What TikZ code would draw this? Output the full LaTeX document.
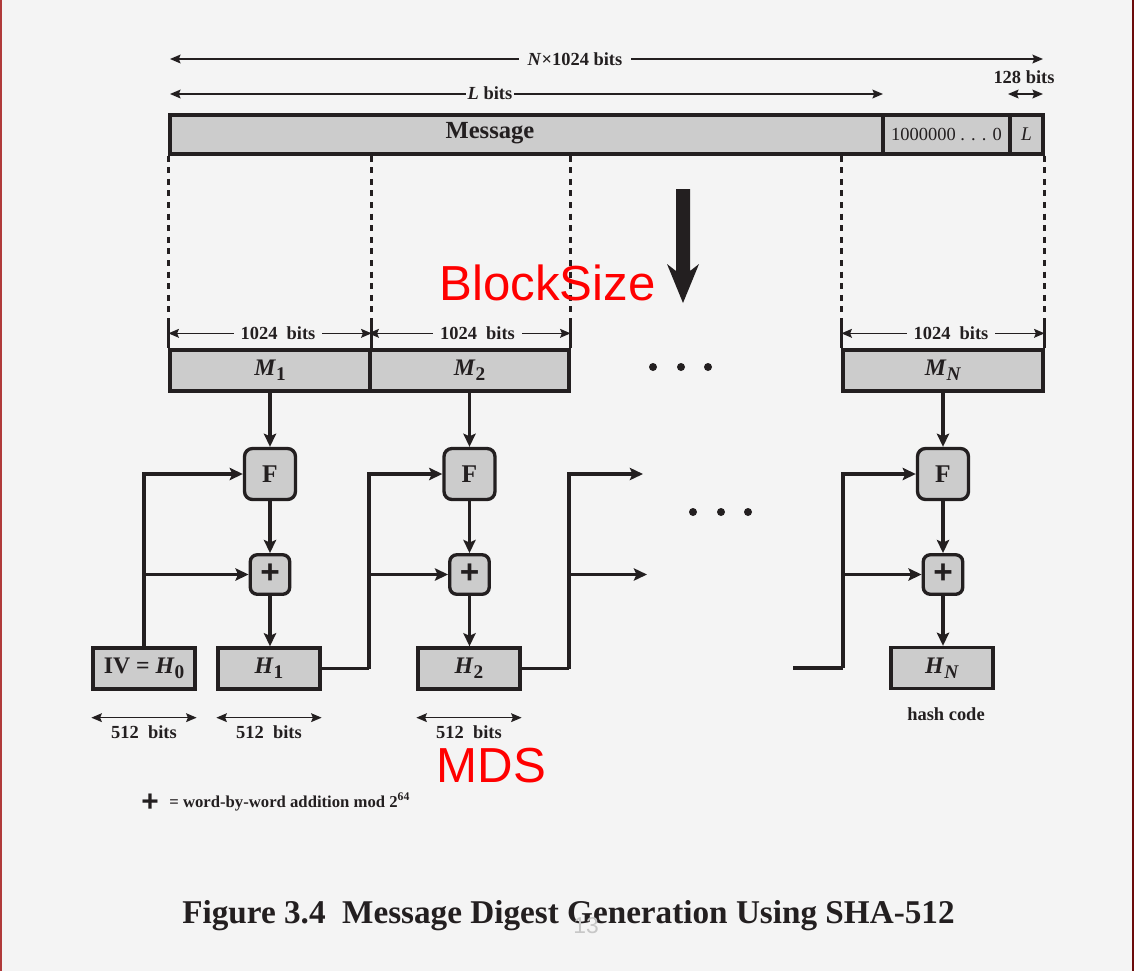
\documentclass[tikz,border=0pt]{standalone}
\usepackage{fontspec}
\setmainfont{Liberation Serif}
\newfontfamily\arialfont{Liberation Sans}
\usetikzlibrary{arrows.meta,calc}
\definecolor{ink}{HTML}{231F20}
\definecolor{boxgray}{HTML}{CCCCCC}
\definecolor{bgc}{HTML}{F4F4F4}
\definecolor{edgeL}{HTML}{B03A3A}
\definecolor{edgeR}{HTML}{6B0A0A}
\newcommand\sbs[1]{\raisebox{-0.45ex}{\fontsize{11}{12}\selectfont #1}}
\begin{document}
\begin{tikzpicture}[x=0.02cm,y=-0.02cm,
  box/.style={draw=ink,fill=boxgray,line width=1.9pt,inner sep=0pt},
  rbox/.style={box,rounded corners=0.16cm},
  boxtxt/.style={font=\fontsize{13.5}{16}\selectfont\bfseries,text=ink,inner sep=0pt},
  flow/.style={draw=ink,line width=1.8pt,-{Stealth[length=7.5pt,width=7pt,inset=1.5pt]}},
  wire/.style={draw=ink,line width=1.8pt},
  dimline/.style={draw=ink,line width=0.9pt,{Stealth[length=6pt,width=5pt,inset=1pt]}-{Stealth[length=6pt,width=5pt,inset=1pt]}},
  dashv/.style={draw=ink,line width=1.7pt,dash pattern=on 3.4pt off 3.2pt},
  tick/.style={draw=ink,line width=1.7pt},
  lbl/.style={font=\fontsize{10.5}{12}\selectfont\bfseries,text=ink,fill=bgc,inner sep=3pt},
  redtxt/.style={font=\arialfont\fontsize{28}{30}\selectfont,text=red,anchor=base,inner sep=0pt},
  plustxt/.style={font=\arialfont\fontsize{19}{20}\selectfont\bfseries,text=ink,inner sep=0pt},
  dot/.style={circle,fill=ink,inner sep=0pt,minimum size=0.16cm}
]
\fill[bgc] (0,0) rectangle (1134,971);
\useasboundingbox (0,0) rectangle (1134,971);
\draw[edgeL,line width=1.2pt] (0.6,0) -- (0.6,971);
\draw[edgeR,line width=1.2pt] (1133.4,0) -- (1133.4,971);

% ---- top dimension lines
\coordinate (a1) at (170,59);
\coordinate (a2) at (1043,59);
\draw[dimline] (a1) -- (a2);
\node[lbl,inner sep=5pt] (ntxt) at (575,59) {\textit{N}×1024 bits};
\coordinate (b1) at (170,94);
\coordinate (b2) at (883,94);
\draw[dimline] (b1) -- (b2);
\node[lbl,inner sep=1pt] (ltxt) at (490,93) {\textit{L} bits};
\coordinate (c1) at (1008,94);
\coordinate (c2) at (1043,94);
\draw[dimline] (c1) -- (c2);
\node[lbl,fill=none,inner sep=0pt] (t128) at (1024,77) {128 bits};

% ---- message bar
\node[box,minimum width=14.26cm,minimum height=0.78cm] (msg) at (526.5,134.5) {};
\node[box,minimum width=2.54cm,minimum height=0.78cm] (pad) at (946.5,134.5) {};
\node[box,minimum width=0.66cm,minimum height=0.78cm] (lenf) at (1026.5,134.5) {};
\node[boxtxt,font=\fontsize{14}{16}\selectfont\bfseries] (msgtxt) at (490,133) {Message};
\node[font=\fontsize{10.5}{12}\selectfont,text=ink,inner sep=0pt] (padtxt) at (pad) {1000000 . . . 0};
\node[font=\fontsize{11}{12}\selectfont\itshape,text=ink,inner sep=0pt] (lentxt) at (lenf) {L};

% ---- M blocks
\node[box,minimum width=4cm,minimum height=0.82cm] (M1) at (270,370.5) {};
\node[box,minimum width=3.98cm,minimum height=0.82cm] (M2) at (469.5,370.5) {};
\node[box,minimum width=4cm,minimum height=0.82cm] (MN) at (943,370.5) {};
\node[boxtxt] at (M1) {\textit{M}\sbs{1}};
\node[boxtxt] at (M2) {\textit{M}\sbs{2}};
\node[boxtxt] at (MN) {\textit{M}\sbs{\textit{N}}};

% ---- dashed block boundaries
\foreach \n/\bot in {d0/M1.north west, d1/M1.north east, d2/M2.north east, d3/MN.north west, d4/MN.north east}{
  \coordinate (\n t) at (\bot |- msg.south);
  \coordinate (\n b) at (\bot);
  \draw[dashv] (\n t) -- ($(\n b)+(0,-26)$);
  \draw[tick] ($(\n b)+(0,-26)$) -- (\n b);
}

% ---- 1024 bits dimensions
\foreach \bx in {M1,M2,MN}{
  \draw[dimline] ($(\bx.north west)+(0,-15)$) -- ($(\bx.north east)+(0,-15)$);
  \node[lbl,inner sep=4pt] at ($(\bx.north)+(8,-15)$) {1024\ \ bits};
}

% ---- big arrow and BlockSize
\fill[ink] (676,189) -- (690,189) -- (690,271) -- (699,264) -- (683,303) -- (667,264) -- (676,271) -- cycle;
\node[redtxt] (bsz) at (547.5,300) {BlockSize};

% ---- dots
\node[dot] (u1) at (653,367) {};
\node[dot] (u2) at (681,367) {};
\node[dot] (u3) at (708,367) {};
\node[dot] (v1) at (693,512) {};
\node[dot] (v2) at (721,512) {};
\node[dot] (v3) at (748,512) {};

% ---- F and plus boxes
\node[rbox,minimum size=1.02cm] (F1) at (270,474) {};
\node[rbox,minimum size=1.02cm] (F2) at (469.5,474) {};
\node[rbox,minimum size=1.02cm] (FN) at (943,474) {};
\foreach \f in {F1,F2,FN}{\node[boxtxt,font=\fontsize{14.5}{16}\selectfont\bfseries] at (\f) {F};}
\node[rbox,rounded corners=0.14cm,minimum size=0.79cm] (P1) at (270,574.5) {};
\node[rbox,rounded corners=0.14cm,minimum size=0.79cm] (P2) at (469.5,574.5) {};
\node[rbox,rounded corners=0.14cm,minimum size=0.79cm] (PN) at (943,574.5) {};
\foreach \p in {P1,P2,PN}{\node[plustxt] at ($(\p)+(0,-1)$) {+};}

% ---- H boxes
\node[box,minimum width=2.04cm,minimum height=0.82cm] (IV) at (144,668.5) {};
\node[box,minimum width=2.04cm,minimum height=0.82cm] (H1) at (269,668.5) {};
\node[box,minimum width=2.04cm,minimum height=0.82cm] (H2) at (469,668.5) {};
\node[box,minimum width=2.04cm,minimum height=0.82cm] (HN) at (942,668) {};
\node[boxtxt] at (IV) {IV = \textit{H}\sbs{0}};
\node[boxtxt] at (H1) {\textit{H}\sbs{1}};
\node[boxtxt] at (H2) {\textit{H}\sbs{2}};
\node[boxtxt] at (HN) {\textit{H}\sbs{\textit{N}}};

% ---- vertical flow
\foreach \m/\f/\p/\h in {M1/F1/P1/H1, M2/F2/P2/H2, MN/FN/PN/HN}{
  \draw[flow] (\m.south -| \f) -- (\f.north);
  \draw[flow] (\f.south) -- (\p.north);
  \draw[flow] (\p.south) -- (\h.north -| \p);
}

% ---- chaining
\draw[flow] (IV.north) |- (F1.west);
\draw[flow] (IV.north |- P1.west) -- (P1.west);

\coordinate (j1) at (369,668.5);
\draw[wire] (H1.east) -- (j1);
\draw[flow] (j1) |- (F2.west);
\draw[flow] (j1 |- P2.west) -- (P2.west);

\coordinate (j2) at (569,668.5);
\coordinate (e1) at (643,474);
\coordinate (e2) at (647,574.5);
\draw[wire] (H2.east) -- (j2);
\draw[flow] (j2) |- (e1);
\draw[flow] (j2 |- e2) -- (e2);

\coordinate (s3) at (793,668);
\coordinate (j3) at (843,668);
\draw[wire] (s3) -- (j3);
\draw[flow] (j3) |- (FN.west);
\draw[flow] (j3 |- PN.west) -- (PN.west);

% ---- 512 bits dimensions
\foreach \hb in {IV,H1,H2}{
  \draw[dimline] ($(\hb.south west)+(0,27)$) -- ($(\hb.south east)+(0,27)$);
  \node[lbl,fill=none,inner sep=0pt,anchor=base] at ($(\hb.south)+(0,48)$) {512\ \ bits};
}
\node[lbl,fill=none,inner sep=0pt,anchor=base] (hc) at (946,720) {hash code};

% ---- MDS and legend
\node[redtxt] (mds) at (491.5,782) {MDS};
\node[plustxt,font=\arialfont\fontsize{17}{18}\selectfont\bfseries] (lplus) at (150,803) {+};
\node[font=\fontsize{9.5}{11}\selectfont\bfseries,text=ink,inner sep=0pt,anchor=base west] (legend) at (169,807) {= word-by-word addition mod 2\textsuperscript{64}};

% ---- caption
\node[font=\fontsize{18.9}{20}\selectfont\bfseries,text=ink,inner sep=0pt,anchor=base] (cap) at (568.5,923) {Figure 3.4\ \ Message Digest Generation Using SHA-512};
\node[font=\arialfont\fontsize{13}{14}\selectfont,text=black!22,inner sep=0pt,anchor=base] (pg) at (586,933) {13};
\end{tikzpicture}
\end{document}
